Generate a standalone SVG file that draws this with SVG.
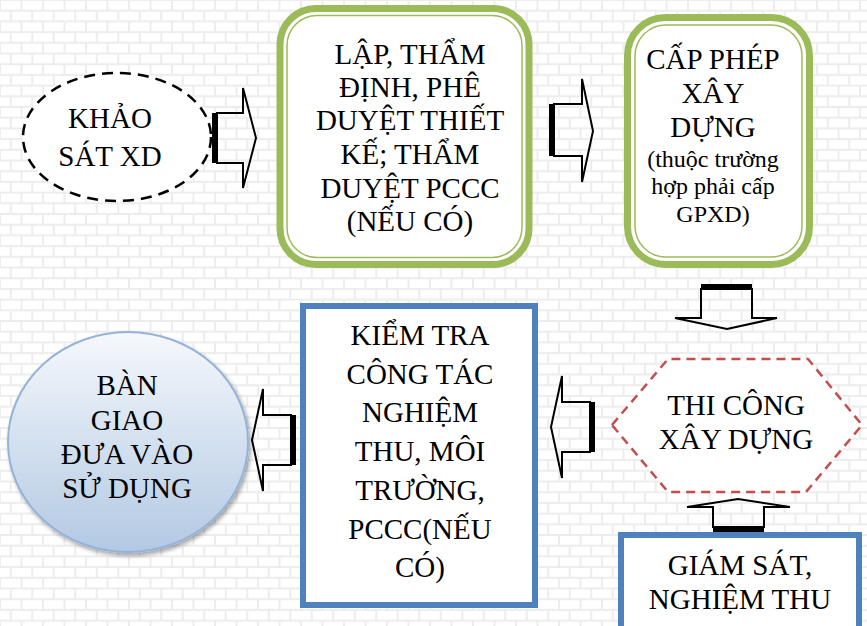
<svg xmlns="http://www.w3.org/2000/svg" width="867" height="626" viewBox="0 0 867 626">
<defs>
<pattern id="brick" width="43" height="21.4" patternUnits="userSpaceOnUse">
<rect width="43" height="21.4" fill="#ededed"/>
<rect x="1" y="1" width="19.5" height="8.7" fill="#fff"/>
<rect x="22.5" y="1" width="19.5" height="8.7" fill="#fff"/>
<rect x="-9.75" y="11.7" width="19.5" height="8.7" fill="#fff"/>
<rect x="11.75" y="11.7" width="19.5" height="8.7" fill="#fff"/>
<rect x="33.25" y="11.7" width="19.5" height="8.7" fill="#fff"/>
</pattern>
<linearGradient id="blueGrad" x1="0" y1="0" x2="0" y2="1">
<stop offset="0" stop-color="#f5f8fc"/>
<stop offset="1" stop-color="#b3c9e3"/>
</linearGradient>
<filter id="shadow" x="-10%" y="-10%" width="125%" height="125%">
<feGaussianBlur in="SourceAlpha" stdDeviation="2"/>
<feOffset dx="2" dy="3" result="b"/>
<feComponentTransfer><feFuncA type="linear" slope="0.35"/></feComponentTransfer>
<feMerge><feMergeNode/><feMergeNode in="SourceGraphic"/></feMerge>
</filter>
</defs>
<style>
text{fill:#000;text-anchor:middle}
.t{font-size:29px}
.s{font-size:24px}
.green{fill:#fff;stroke:#9bbb59;stroke-width:7}
.green2{fill:none;stroke:#9bbb59;stroke-width:1.5}
.blue{fill:#fff;stroke:#4f81bd;stroke-width:6}
.arrow{fill:none;stroke:#000;stroke-width:2;stroke-linejoin:miter}
.bar{fill:#000}
</style>
<rect width="867" height="626" fill="url(#brick)"/>

<g id="connectors">
<g id="a1">
<rect class="bar" x="212" y="113" width="4" height="50"/>
<path class="arrow" d="M217,113 H243 V88 L256,138 L243,188 V163 H217 Z"/>
</g>
<g id="a2">
<rect class="bar" x="549" y="104" width="4" height="52"/>
<path class="arrow" d="M554,104 H582 V79 L593,131 L582,182 V156 H554 Z"/>
</g>
<g id="a3">
<rect class="bar" x="701" y="284" width="51" height="4"/>
<path class="arrow" d="M701,289 V318 H675 L727,329 L777,318 H752 V289 Z"/>
</g>
<g id="a4">
<rect class="bar" x="591" y="402" width="4" height="50"/>
<path class="arrow" d="M590,402 H562 V376 L551,427 L562,478 V452 H590 Z"/>
</g>
<g id="a5">
<rect class="bar" x="292" y="415" width="4" height="50"/>
<path class="arrow" d="M291,415 H263 V389 L252,440 L263,491 V465 H291 Z"/>
</g>
<g id="a6">
<rect class="bar" x="713" y="528" width="51" height="4"/>
<path class="arrow" d="M713,527 V507 H687 L738,499 L790,507 H764 V527 Z"/>
</g>
</g>

<g font-family="'Liberation Serif', 'Times New Roman', Tinos, 'DejaVu Serif', serif">
<g id="khao-sat">
<ellipse cx="117" cy="137" rx="94" ry="64" fill="#fff" stroke="#000" stroke-width="2.5" stroke-dasharray="11,7"/>
<text class="t" x="110" y="128">KHẢO</text>
<text class="t" x="110" y="166">SÁT XD</text>
</g>

<g id="lap-tham-dinh">
<rect class="green" x="280" y="8.5" width="249" height="256" rx="36"/>
<rect class="green2" x="287" y="15.5" width="235" height="242" rx="30"/>
<text class="t" x="410" y="64">LẬP, THẨM</text>
<text class="t" x="410" y="97">ĐỊNH, PHÊ</text>
<text class="t" x="410" y="130">DUYỆT THIẾT</text>
<text class="t" x="410" y="164">KẾ; THẨM</text>
<text class="t" x="410" y="198">DUYỆT PCCC</text>
<text class="t" x="410" y="231">(NẾU CÓ)</text>
</g>

<g id="cap-phep">
<rect class="green" x="627.5" y="17.5" width="182" height="247" rx="38"/>
<rect class="green2" x="635" y="25" width="167" height="232" rx="31"/>
<text class="t" x="713" y="69">CẤP PHÉP</text>
<text class="t" x="713" y="103">XÂY</text>
<text class="t" x="713" y="137">DỰNG</text>
<text class="s" x="713" y="167">(thuộc trường</text>
<text class="s" x="713" y="194">hợp phải cấp</text>
<text class="s" x="713" y="222">GPXD)</text>
</g>

<g id="thi-cong">
<path d="M612,425 L668,359 H808 L862,425 L806,492 H668 Z" fill="#fff" stroke="#c0504d" stroke-width="2.5" stroke-dasharray="9,6" stroke-linejoin="round"/>
<text class="t" x="736" y="415">THI CÔNG</text>
<text class="t" x="736" y="449">XÂY DỰNG</text>
</g>

<g id="giam-sat">
<rect class="blue" x="621" y="535" width="238" height="100"/>
<text class="t" x="740" y="575">GIÁM SÁT,</text>
<text class="t" x="740" y="609">NGHIỆM THU</text>
</g>

<g id="kiem-tra">
<rect class="blue" x="303" y="306" width="232" height="299"/>
<text class="t" x="420" y="345">KIỂM TRA</text>
<text class="t" x="420" y="384">CÔNG TÁC</text>
<text class="t" x="420" y="422">NGHIỆM</text>
<text class="t" x="420" y="461">THU, MÔI</text>
<text class="t" x="420" y="500">TRƯỜNG,</text>
<text class="t" x="420" y="539">PCCC(NẾU</text>
<text class="t" x="420" y="577">CÓ)</text>
</g>

<g id="ban-giao">
<ellipse cx="128" cy="442" rx="120" ry="110" fill="url(#blueGrad)" stroke="#95b3d7" stroke-width="2" filter="url(#shadow)"/>
<text class="t" x="127" y="395">BÀN</text>
<text class="t" x="127" y="430">GIAO</text>
<text class="t" x="127" y="464">ĐƯA VÀO</text>
<text class="t" x="127" y="498">SỬ DỤNG</text>
</g>
</g>
</svg>
